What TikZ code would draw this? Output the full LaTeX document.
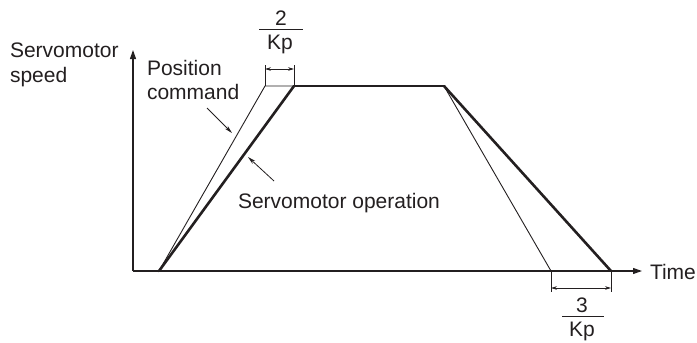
\documentclass[tikz,border=0pt]{standalone}
\usepackage{fontspec}
\setmainfont{Liberation Sans}
\usetikzlibrary{arrows.meta}
\definecolor{ink}{HTML}{231F20}
\begin{document}
\begin{tikzpicture}[x=1pt,y=-1pt,
  every node/.style={inner sep=0pt,outer sep=0pt,text=ink},
  lbl/.style={font=\fontsize{21}{24.5}\selectfont,align=left,anchor=north west},
  frac/.style={font=\fontsize{21}{24}\selectfont,anchor=base},
  axis/.style={draw=ink,line width=1.1pt,-{Triangle[length=9pt,width=6pt]}},
  cmdline/.style={draw=ink,line width=0.9pt,line join=miter},
  servoline/.style={draw=ink,line width=2.6pt,line cap=round},
  flatline/.style={draw=ink,line width=1.4pt},
  dimline/.style={draw=ink,line width=0.8pt},
  dimarrow/.style={draw=ink,line width=0.8pt,{Stealth[length=6pt,width=3.6pt]}-{Stealth[length=6pt,width=3.6pt]}},
  leader/.style={draw=ink,line width=0.8pt,-{Stealth[length=8pt,width=4pt]}},
  fracbar/.style={draw=ink,line width=1pt}]
\useasboundingbox (0,0) rectangle (697,343);

% key points
\coordinate (O) at (133,271);
\coordinate (ytop) at (133,50);
\coordinate (xend) at (642,271);
\coordinate (start) at (159,271);
\coordinate (pc1) at (265,86);
\coordinate (sc1) at (294,86);
\coordinate (c2) at (444,86);
\coordinate (pend) at (551,271);
\coordinate (send) at (611,271);

% axes
\draw[axis] (O) -- (ytop);
\draw[axis] (O) -- (xend);

% position command (thin)
\draw[cmdline] (start) -- (pc1) -- (c2) -- (pend);
% servomotor operation (thick)
\draw[flatline] (sc1) -- (c2);
\draw[servoline] (start) -- (sc1);
\draw[servoline] (c2) -- (send);

% top dimension
\coordinate (t1) at (265,65);
\coordinate (t2) at (294,65);
\coordinate (ta1) at (265,69);
\coordinate (ta2) at (294,69);
\draw[dimline] (pc1) -- (t1);
\draw[dimline] (sc1) -- (t2);
\draw[dimarrow] (ta1) -- (ta2);
\node[frac] (two) at (281,25) {2};
\coordinate (bar1a) at (259,29);
\coordinate (bar1b) at (303,29);
\draw[fracbar] (bar1a) -- (bar1b);
\node[frac] (kp1) at (280,49) {Kp};

% bottom dimension
\coordinate (b1) at (551,292);
\coordinate (b2) at (611,292);
\coordinate (ba1) at (551,288);
\coordinate (ba2) at (611,288);
\draw[dimline] (pend) -- (b1);
\draw[dimline] (send) -- (b2);
\draw[dimarrow] (ba1) -- (ba2);
\node[frac] (three) at (582,312) {3};
\coordinate (bar2a) at (562,316);
\coordinate (bar2b) at (604,316);
\draw[fracbar] (bar2a) -- (bar2b);
\node[frac] (kp2) at (582,336) {Kp};

% labels
\node[lbl] (speed) at (10,43) {Servomotor\\speed};
\node[lbl] (poscmd) at (147,60) {Position\\command};
\node[font=\fontsize{21}{24.5}\selectfont,anchor=base west] (servo) at (238,208) {Servomotor operation};
\node[font=\fontsize{21}{24.5}\selectfont,anchor=base west] (time) at (650,279) {Time};

% leaders
\coordinate (l1s) at (207,108);
\coordinate (l1e) at (232,133);
\coordinate (l2s) at (274,181);
\coordinate (l2e) at (248,157);
\draw[leader] (l1s) -- (l1e);
\draw[leader] (l2s) -- (l2e);
\end{tikzpicture}
\end{document}
